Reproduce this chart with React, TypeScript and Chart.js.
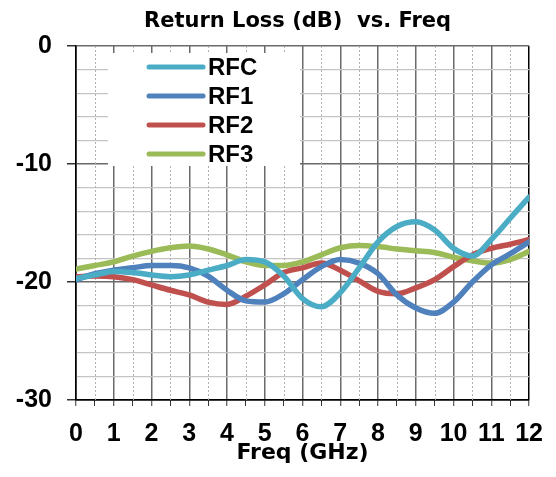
import React, { useEffect, useRef } from "react";
import { Chart, registerables } from "chart.js";

Chart.register(...registerables);

const freqs = [0, 0.5, 1, 1.5, 2, 2.5, 3, 3.5, 4, 4.5, 5, 5.5, 6, 6.5, 7, 7.5, 8, 8.5, 9, 9.5, 10, 10.5, 11, 11.5, 12];
const rfc = [-19.7, -19.4, -19.1, -19.2, -19.4, -19.55, -19.4, -19.0, -18.6, -18.1, -18.3, -19.5, -21.4, -22.1, -20.9, -18.8, -16.6, -15.3, -14.9, -15.6, -17.15, -17.8, -16.4, -14.6, -12.8];
const rf1 = [-19.8, -19.3, -19.0, -18.8, -18.6, -18.6, -18.8, -19.5, -20.7, -21.6, -21.7, -21.0, -19.8, -18.7, -18.1, -18.4, -19.3, -21.1, -22.2, -22.65, -21.7, -20.0, -18.55, -17.6, -16.6];
const rf2 = [-19.55, -19.5, -19.55, -19.8, -20.25, -20.7, -21.1, -21.7, -21.9, -21.2, -20.25, -19.2, -18.8, -18.4, -19.0, -19.9, -20.8, -21.0, -20.5, -19.8, -18.7, -17.7, -17.15, -16.8, -16.4];
const rf3 = [-18.9, -18.6, -18.3, -17.8, -17.4, -17.1, -16.95, -17.2, -17.7, -18.3, -18.6, -18.6, -18.3, -17.7, -17.1, -16.9, -17.0, -17.2, -17.35, -17.5, -17.9, -18.2, -18.4, -18.1, -17.4];
const seriesNames = ["RFC", "RF1", "RF2", "RF3"];
const seriesColors = ["#4BACC6", "#4F81BD", "#C0504D", "#9BBB59"];
const seriesValues = [rfc, rf1, rf2, rf3];
const chartTitle = "Return Loss (dB)  vs. Freq";
const xTitle = "Freq (GHz)";

const TITLE_FONT = "'DejaVu Sans', Verdana, sans-serif";
const LABEL_FONT = "'Liberation Sans', Arial, sans-serif";

const overlayPlugin = {
  id: "overlay",
  beforeDatasetsDraw(chart: any) {
    const { ctx, chartArea, scales } = chart;
    const xs = scales.x;
    ctx.save();
    // dotted minor vertical grid lines at half GHz
    ctx.strokeStyle = "#b0b0b0";
    ctx.lineWidth = 1;
    ctx.setLineDash([2, 2]);
    for (let f = 0.5; f < 12; f += 1) {
      const px = Math.round(xs.getPixelForValue(f)) + 0.5;
      ctx.beginPath();
      ctx.moveTo(px, chartArea.top);
      ctx.lineTo(px, chartArea.bottom);
      ctx.stroke();
    }
    ctx.setLineDash([]);
    // legend box
    const bx = chartArea.left + 32;
    const by = chartArea.top + 7;
    const bw = 192;
    const bh = 113;
    ctx.fillStyle = "#ffffff";
    ctx.fillRect(bx, by, bw, bh);
    ctx.font = `bold 24px ${LABEL_FONT}`;
    ctx.textBaseline = "middle";
    ctx.textAlign = "left";
    chart.data.datasets.forEach((ds: any, i: number) => {
      const y = by + 14 + i * 29;
      ctx.strokeStyle = ds.borderColor;
      ctx.lineWidth = 5;
      ctx.lineCap = "round";
      ctx.beginPath();
      ctx.moveTo(bx + 41, y);
      ctx.lineTo(bx + 95, y);
      ctx.stroke();
      ctx.fillStyle = "#000";
      ctx.fillText(ds.label, bx + 100, y + 1);
    });
    ctx.restore();
  },
  afterDraw(chart: any) {
    const { ctx, chartArea } = chart;
    ctx.save();
    ctx.font = `bold 21px ${TITLE_FONT}`;
    ctx.fillStyle = "#000";
    ctx.textAlign = "center";
    ctx.textBaseline = "alphabetic";
    ctx.fillText(chartTitle, (chartArea.left + chartArea.right) / 2 - 5, chartArea.top - 19);
    ctx.restore();
  },
};

export default function App() {
  const ref = useRef<HTMLCanvasElement>(null);
  useEffect(() => {
    if (!ref.current) return;
    const chart = new Chart(ref.current, {
      type: "line",
      data: {
        datasets: seriesNames.map((name, i) => ({
          label: name,
          data: freqs.map((f, j) => ({ x: f, y: seriesValues[i][j] })),
          borderColor: seriesColors[i],
          backgroundColor: seriesColors[i],
          borderWidth: 5.5,
          pointRadius: 0,
          cubicInterpolationMode: "monotone" as const,
          borderCapStyle: "round" as const,
          fill: false,
        })),
      },
      options: {
        responsive: false,
        animation: false,
        layout: { padding: { left: 0, right: 16, top: 46, bottom: 0 } },
        plugins: {
          legend: { display: false },
          tooltip: { enabled: false },
          title: { display: false },
        },
        scales: {
          x: {
            type: "linear",
            min: 0,
            max: 12,
            afterFit: (s: any) => {
              s.height = 77;
            },
            ticks: {
              stepSize: 0.5,
              autoSkip: false,
              maxRotation: 0,
              color: "#000",
              padding: 13,
              font: { family: LABEL_FONT, size: 25, weight: "bold" },
              callback: (v: any) => (Number.isInteger(Number(v)) ? String(v) : ""),
            },
            grid: {
              color: (c: any) => {
                const v = c.tick ? c.tick.value : 0;
                if (v === 0 || v === 12) return "#000";
                return Number.isInteger(v) ? "#6a6a6a" : "rgba(0,0,0,0)";
              },
              lineWidth: (c: any) => (c.tick && Number.isInteger(c.tick.value) ? 1.5 : 1),
              tickColor: "#333",
              tickLength: 6,
              tickWidth: 1,
            },
            border: { color: "#000", width: 1.5 },
            title: {
              display: true,
              text: xTitle,
              color: "#000",
              font: { family: TITLE_FONT, size: 22, weight: "bold" },
              padding: { top: 0, bottom: 11 },
            },
          },
          y: {
            min: -30,
            max: 0,
            afterFit: (s: any) => {
              s.width = 76;
            },
            ticks: {
              stepSize: 2,
              autoSkip: false,
              color: "#000",
              padding: 15,
              font: { family: LABEL_FONT, size: 25, weight: "bold" },
              callback: (v: any) => (Number(v) % 10 === 0 ? String(v) : ""),
            },
            grid: {
              color: (c: any) => {
                const v = c.tick ? c.tick.value : 0;
                if (v === -30) return "#000";
                return v % 10 === 0 ? "#6a6a6a" : "#c4c4c4";
              },
              lineWidth: (c: any) => (c.tick && c.tick.value % 10 === 0 ? 1.5 : 1.2),
              tickColor: (c: any) => (c.tick && c.tick.value % 10 === 0 ? "#333" : "rgba(0,0,0,0)"),
              tickLength: 9,
            },
            border: { color: "#000", width: 1.5 },
          },
        },
      },
      plugins: [overlayPlugin],
    });
    return () => chart.destroy();
  }, []);
  return (
    <div style={{ position: "fixed", left: 0, top: 0, width: 556, height: 477, background: "#fff" }}>
      <canvas ref={ref} width={556} height={477} />
    </div>
  );
}
